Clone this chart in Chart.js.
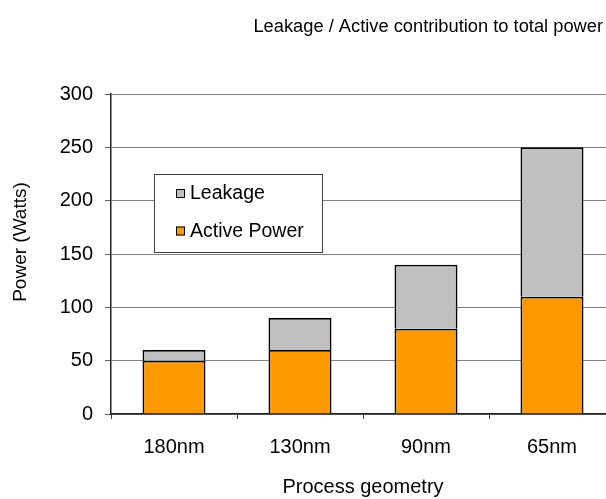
<!DOCTYPE html>
<html>
<head>
<meta charset="utf-8">
<script src="https://cdn.jsdelivr.net/npm/chart.js@4.4.0/dist/chart.umd.min.js"></script>
<style>
  html, body { margin: 0; padding: 0; background: #fff; overflow: hidden; }
  #wrap { width: 615px; height: 499px; }
</style>
</head>
<body>
<div id="wrap"><canvas id="powerChart" width="615" height="499"></canvas></div>
<script>
// chart data
const categories = ['180nm', '130nm', '90nm', '65nm'];
const activePower = [50, 60, 80, 110];
const leakage = [10, 30, 60, 140];
const yTicks = [0, 50, 100, 150, 200, 250, 300];

const FONT = "'Liberation Sans', Arial, sans-serif";

// Title, y axis caption and boxed legend drawn the way the spreadsheet did it
const decorPlugin = {
  id: 'decor',
  afterDraw(chart) {
    const ctx = chart.ctx;
    const area = chart.chartArea;

    ctx.save();
    ctx.fillStyle = '#000';
    ctx.font = '18.3px ' + FONT;
    ctx.textAlign = 'right';
    ctx.textBaseline = 'middle';
    ctx.fillText('Leakage / Active contribution to total power', 603, 27);

    // y axis caption (sits a bit above the axis middle in the original)
    ctx.save();
    ctx.translate(21, 242);
    ctx.rotate(-Math.PI / 2);
    ctx.textAlign = 'center';
    ctx.font = '19px ' + FONT;
    ctx.fillText('Power (Watts)', 0, 0);
    ctx.restore();

    // legend box
    const bx = area.left + 43, by = area.top + 80, bw = 168, bh = 78;
    ctx.fillStyle = '#fff';
    ctx.fillRect(bx, by, bw, bh);
    ctx.strokeStyle = '#404040';
    ctx.lineWidth = 1;
    ctx.strokeRect(bx + 0.5, by + 0.5, bw, bh);

    const items = chart.data.datasets.slice().reverse();
    ctx.font = '19.5px ' + FONT;
    ctx.textAlign = 'left';
    items.forEach((ds, i) => {
      const cy = by + 20 + i * 37.5;
      ctx.fillStyle = ds.backgroundColor;
      ctx.fillRect(bx + 22, cy - 5, 9, 9);
      ctx.strokeStyle = '#000';
      ctx.strokeRect(bx + 22.5, cy - 4.5, 8, 8);
      ctx.fillStyle = '#000';
      ctx.fillText(ds.label, bx + 36, cy);
    });
    ctx.restore();
  }
};

const ctx = document.getElementById('powerChart').getContext('2d');
new Chart(ctx, {
  type: 'bar',
  data: {
    labels: categories,
    datasets: [
      {
        label: 'Active Power',
        data: activePower,
        backgroundColor: '#FF9900',
        borderColor: '#000',
        borderWidth: 1.8,
        borderSkipped: 'start'
      },
      {
        label: 'Leakage',
        data: leakage,
        backgroundColor: '#C0C0C0',
        borderColor: '#000',
        borderWidth: 1.8,
        borderSkipped: 'start'
      }
    ]
  },
  options: {
    responsive: false,
    animation: false,
    layout: { padding: { top: 94, right: 0, bottom: 0, left: 0 } },
    datasets: {
      bar: { categoryPercentage: 1.0, barPercentage: 0.5 }
    },
    plugins: {
      legend: { display: false },
      title: { display: false },
      tooltip: { enabled: false }
    },
    scales: {
      x: {
        stacked: true,
        afterFit: (scale) => { scale.height = 85; },
        grid: {
          display: true,
          offset: true,
          drawOnChartArea: false,
          tickLength: 5,
          tickColor: '#404040'
        },
        border: { color: '#202020', width: 1.5 },
        ticks: {
          color: '#000',
          padding: 16,
          font: { family: FONT, size: 20 }
        },
        title: {
          display: true,
          text: 'Process geometry',
          color: '#000',
          padding: { top: 0, bottom: 0 },
          font: { family: FONT, size: 20 }
        }
      },
      y: {
        stacked: true,
        min: 0,
        max: 300,
        afterFit: (scale) => { scale.width = 111; },
        afterBuildTicks: (scale) => { scale.ticks = yTicks.map(v => ({ value: v })); },
        grid: {
          color: '#808080',
          tickLength: 6,
          tickColor: '#606060'
        },
        border: { color: '#202020', width: 1.5 },
        ticks: {
          color: '#000',
          padding: 12,
          font: { family: FONT, size: 20 }
        },
        title: { display: false }
      }
    }
  },
  plugins: [decorPlugin]
});
</script>
</body>
</html>
